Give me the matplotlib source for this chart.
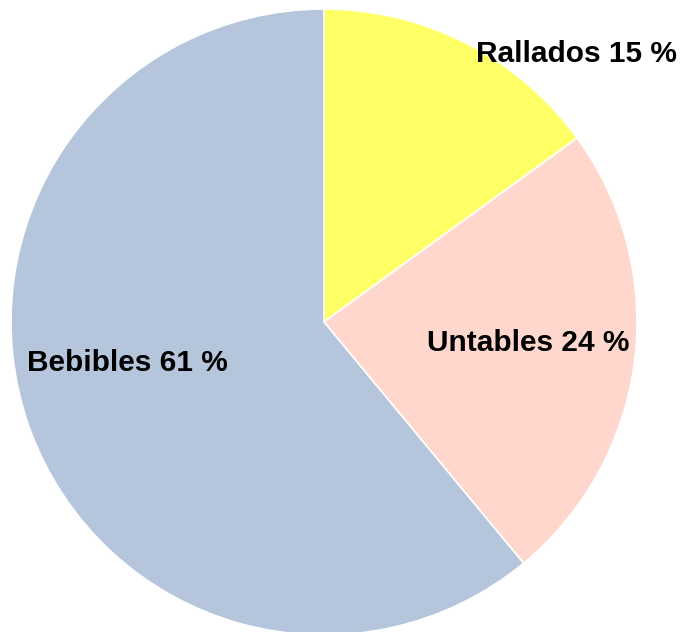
import matplotlib.pyplot as plt

# datos del grafico
categorias = ["Rallados", "Untables", "Bebibles"]
porcentajes = [15, 24, 61]
colores = ["#FFFF66", "#FFD7CC", "#B5C6DC"]

# posicion de cada etiqueta (en unidades del radio)
pos_etiquetas = [(0.805, 0.855), (0.652, -0.068), (-0.627, -0.13)]

fig = plt.figure(figsize=(6.82, 6.32), dpi=100)
ax = fig.add_axes([11 / 682, (632 - 322 - 313) / 632, 626 / 682, 626 / 632])

ax.pie(porcentajes, colors=colores, startangle=90, counterclock=False,
       radius=1, wedgeprops=dict(edgecolor="white", linewidth=1.2))
ax.set_xlim(-1, 1)
ax.set_ylim(-1, 1)
ax.set_aspect("auto")
ax.axis("off")

for nombre, valor, (x, y) in zip(categorias, porcentajes, pos_etiquetas):
    ax.text(x, y, f"{nombre} {valor} %", ha="center", va="center",
            fontsize=21.5, fontweight="bold", family="Liberation Sans",
            color="black")

fig.savefig("out.png", dpi=100)
